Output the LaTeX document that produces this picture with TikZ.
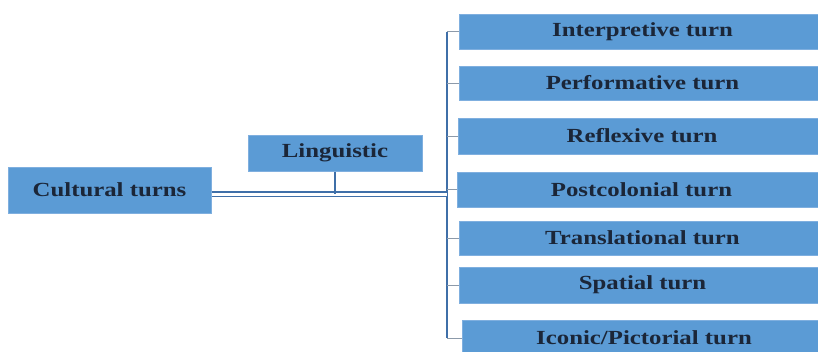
\documentclass[tikz,border=0pt]{standalone}
\usepackage{fontspec}
\newfontfamily\boxfont{Liberation Serif}[FakeStretch=1.24]
\usetikzlibrary{calc}
\definecolor{boxfill}{HTML}{5B9BD5}
\definecolor{boxline}{HTML}{7FAFDF}
\definecolor{txt}{HTML}{1B2638}
\definecolor{trunkc}{HTML}{3F6FA8}
\definecolor{tickc}{HTML}{8C9AAA}
\tikzset{
  box/.style={draw=boxline, line width=1pt, fill=boxfill, text=txt,
    font=\boxfont\fontsize{20}{23}\selectfont\bfseries, inner sep=0pt},
  trunkline/.style={draw=trunkc, line width=1.6pt},
  tickline/.style={draw=tickc, line width=0.9pt},
  dbl/.style={draw=trunkc, line width=1.4pt, double=white, double distance=3pt},
}
\begin{document}
\begin{tikzpicture}[x=1pt,y=-1pt]
\fill[white] (0,0) rectangle (818,351);
\useasboundingbox (0,0) rectangle (818,351);
\clip (0,0) rectangle (818,351);
\node[box, minimum width=203pt, minimum height=46pt] (cult) at (109.5,190) {Cultural turns};
\node[box, minimum width=174pt, minimum height=36pt] (ling) at (335,153) {Linguistic};
\node[box, minimum width=367pt, minimum height=35pt] (interp) at (642.5,31.5) {Interpretive turn};
\node[box, minimum width=367pt, minimum height=34pt] (perf) at (642.5,83) {Performative turn};
\node[box, minimum width=368pt, minimum height=36pt] (refl) at (642,136) {Reflexive turn};
\node[box, minimum width=369pt, minimum height=35pt] (post) at (641.5,189.5) {Postcolonial turn};
\node[box, minimum width=367pt, minimum height=34pt] (trans) at (642.5,238) {Translational turn};
\node[box, minimum width=367pt, minimum height=36pt] (spat) at (642.5,285) {Spatial turn};
\node[box, minimum width=364pt, minimum height=36pt] (icon) at (644,338) {Iconic/Pictorial turn};
\coordinate (trunk) at (447,194);
\coordinate (ttop) at (interp.west -| trunk);
\coordinate (tbot) at (icon.west -| trunk);
\coordinate (lfoot) at (ling.south |- trunk);
\draw[trunkline] (ttop) -- (tbot);
\foreach \n in {interp,perf,refl,post,trans,spat,icon}
  \draw[tickline] (\n.west -| trunk) -- (\n.west);
\draw[dbl] (cult.east |- trunk) -- (trunk);
\draw[trunkline] (ling.south) -- (lfoot);
\end{tikzpicture}
\end{document}
